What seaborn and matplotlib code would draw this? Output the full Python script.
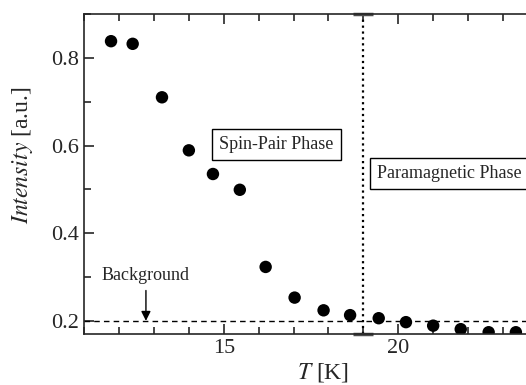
import matplotlib
matplotlib.use("Agg")
import matplotlib.pyplot as plt
from matplotlib.ticker import MultipleLocator
import numpy as np
import pandas as pd
import seaborn as sns

# data
temp = [11.77, 12.39, 13.23, 14.0, 14.69, 15.46, 16.2, 17.03, 17.86, 18.62,
        19.44, 20.22, 21.0, 21.79, 22.59, 23.37]
intensity = [0.838, 0.832, 0.71, 0.589, 0.535, 0.499, 0.323, 0.253, 0.224, 0.213,
             0.206, 0.197, 0.189, 0.181, 0.174, 0.174]
background = 0.2
t_transition = 19.0

df = pd.DataFrame({"T": temp, "I": intensity})

sns.set_style("ticks")
plt.rcParams["font.family"] = ["Liberation Serif", "DejaVu Serif"]
plt.rcParams["mathtext.fontset"] = "stix"

fig = plt.figure(figsize=(5.26, 3.85), dpi=100)
ax = fig.add_axes([0.16, 0.1325, 0.84, 0.8311])

sns.scatterplot(data=df, x="T", y="I", color="black", s=80, edgecolor="none", ax=ax)

ax.axhline(background, color="black", linestyle=(0, (4, 3)), linewidth=1)
ax.plot([t_transition, t_transition], [0.17, 0.9], color="black", linestyle=":",
        linewidth=1.6, clip_on=False)
ax.plot([t_transition, t_transition], [0.17, 0.9], linestyle="none", marker="_",
        markersize=14, markeredgewidth=2.5, color="0.3", clip_on=False)

ax.set_xlim(11.0, 23.66)
ax.set_ylim(0.17, 0.9)
ax.xaxis.set_major_locator(MultipleLocator(5))
ax.xaxis.set_minor_locator(MultipleLocator(1))
ax.yaxis.set_major_locator(MultipleLocator(0.2))
ax.yaxis.set_minor_locator(MultipleLocator(0.1))
ax.tick_params(which="both", direction="in", top=True, right=False, width=1.2,
               labelsize=16)
ax.tick_params(which="major", length=7)
ax.tick_params(which="minor", length=5)
for side in ["left", "top", "bottom"]:
    ax.spines[side].set_linewidth(1.2)
ax.spines["right"].set_visible(False)

ax.set_xlabel(r"$T$ [K]", fontsize=17)
ax.set_ylabel(r"$Intensity$ [a.u.]", fontsize=17)
ax.xaxis.set_label_coords(0.54, -0.085)
ax.yaxis.set_label_coords(-0.112, 0.56)

box = dict(boxstyle="square,pad=0.4", facecolor="white", edgecolor="black", linewidth=1)
ax.text(16.5, 0.602, "Spin-Pair Phase", fontsize=13, ha="center", va="center", bbox=box)
ax.text(19.4, 0.536, "Paramagnetic Phase", fontsize=13, ha="left", va="center", bbox=box)

ax.annotate("Background", xy=(12.77, background), xytext=(12.77, 0.283),
            fontsize=13, ha="center", va="bottom",
            arrowprops=dict(arrowstyle="-|>", color="black", lw=1, mutation_scale=14,
                            shrinkA=2, shrinkB=0))

fig.savefig("out.png", dpi=100)
